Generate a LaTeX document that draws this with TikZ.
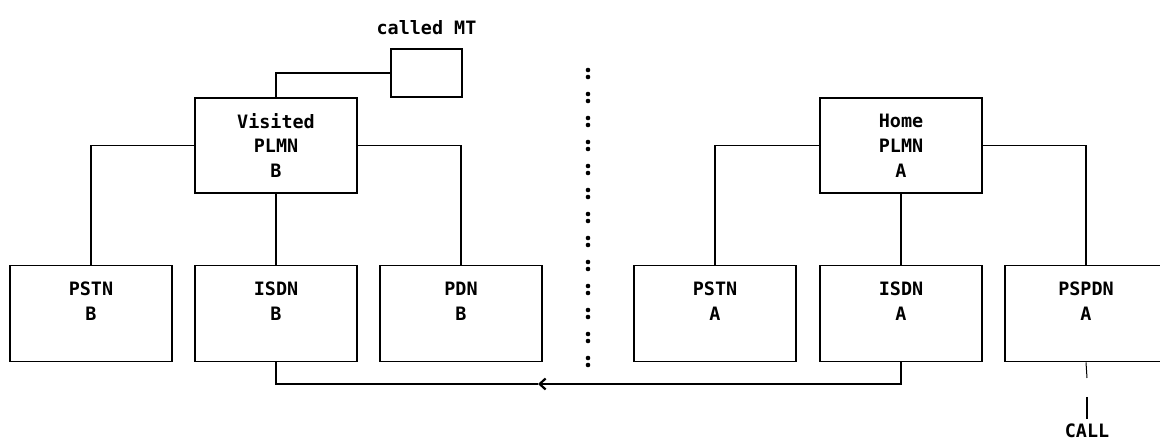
\documentclass[tikz,border=0pt]{standalone}
\usepackage{fontspec}
\setmonofont{DejaVu Sans Mono}
\usepackage{tikz}
\usetikzlibrary{arrows.meta, positioning}
\tikzset{netbox/.style={draw, line width=1.8bp, minimum width=162bp, minimum height=96bp, align=center, inner sep=0pt},
  link/.style={line width=1.8bp},
  every node/.style={font=\ttfamily\bfseries\fontsize{18.5}{25}\selectfont}}

\begin{document}
\begin{tikzpicture}[x=1bp, y=-1bp]
\useasboundingbox (0,0) rectangle (1160,440);
% visited network B
\node[netbox, minimum width=71bp, minimum height=48bp] (mt) at (426.5,73) {};
\node[above=10bp of mt] (mtlabel) {called MT};
\node[netbox, minimum height=95bp] (vplmn) at (276,145.5) {Visited\\PLMN\\B};
\node[netbox] (pstnB) at (91,313.5) {PSTN\\B\\\mbox{}};
\node[netbox] (isdnB) at (276,313.5) {ISDN\\B\\\mbox{}};
\node[netbox] (pdnB) at (461,313.5) {PDN\\B\\\mbox{}};
% home network A
\node[netbox, minimum height=95bp] (hplmn) at (901,145.5) {Home\\PLMN\\A};
\node[netbox] (pstnA) at (715,313.5) {PSTN\\A\\\mbox{}};
\node[netbox] (isdnA) at (901,313.5) {ISDN\\A\\\mbox{}};
\node[netbox] (pspdnA) at (1086,313.5) {PSPDN\\A\\\mbox{}};
\node[anchor=south, inner sep=1.5bp] (call) at (1087,439) {CALL};
\coordinate (tip) at (538,384);
\coordinate (gap) at (1087,378);
\coordinate (gapend) at (1087,397);
\draw[link] (mt.west) -| (vplmn.north);
\draw[link] (vplmn.west) -| (pstnB.north);
\draw[link] (vplmn.south) -- (isdnB.north);
\draw[link] (vplmn.east) -| (pdnB.north);
\draw[link] (hplmn.west) -| (pstnA.north);
\draw[link] (hplmn.south) -- (isdnA.north);
\draw[link] (hplmn.east) -| (pspdnA.north);
\draw[link, -{Straight Barb[length=6bp, width=11bp, line width=2.2bp]}] (isdnA.south) |- (tip);
\draw[link] (tip) -| (isdnB.south);
\draw[line width=1bp] (pspdnA.south) -- (gap);
\draw[link] (gapend) -- ([yshift=3bp]call.north);
% border between the networks
\foreach \i in {0,...,12}
  {\fill (588,70+24*\i) circle (2.3bp);
   \fill (588,77+24*\i) circle (2.3bp);}
\end{tikzpicture}
\end{document}
